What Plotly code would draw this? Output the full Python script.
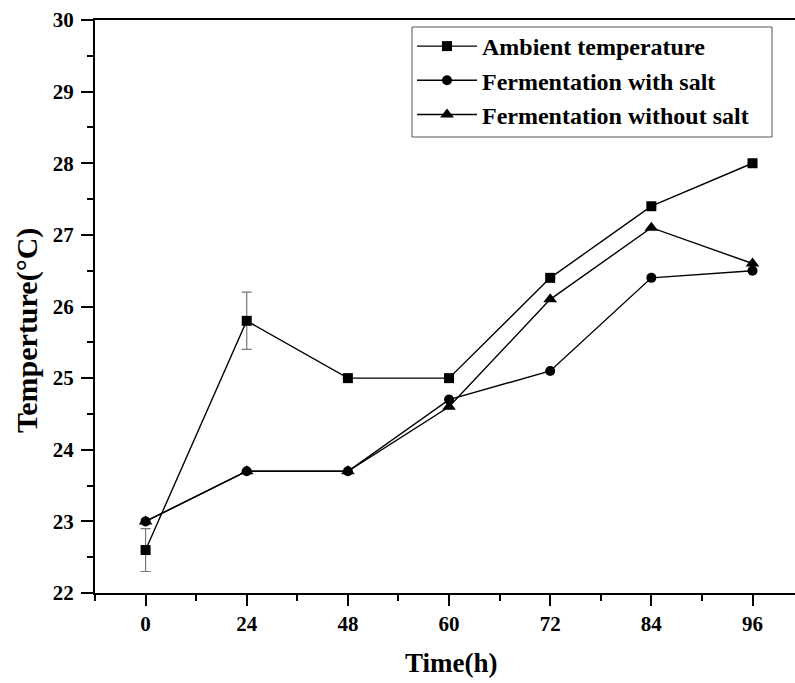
import plotly.graph_objects as go

hours = ["0", "24", "48", "60", "72", "84", "96"]
ambient = [22.6, 25.8, 25.0, 25.0, 26.4, 27.4, 28.0]
ambient_err = [0.3, 0.4, 0.0, 0.0, 0.0, 0.0, 0.0]
with_salt = [23.0, 23.7, 23.7, 24.7, 25.1, 26.4, 26.5]
without_salt = [23.0, 23.7, 23.7, 24.6, 26.1, 27.1, 26.6]

idx = list(range(len(hours)))
FONT = "Liberation Serif, Times New Roman, serif"

# plot-area geometry (pixels)
L, R, T, B = 95, 795, 20, 593
PW, PH = R - L, B - T
def px(xp):
    return (xp - L) / PW
def py(yp):
    return (B - yp) / PH

fig = go.Figure()
fig.add_trace(go.Scatter(
    x=idx, y=ambient, name="Ambient temperature", mode="lines+markers",
    line=dict(color="black", width=1.4),
    marker=dict(symbol="square", size=10, color="black"),
    error_y=dict(type="data", array=ambient_err, visible=True,
                 color="#777777", thickness=1.2, width=5),
))
fig.add_trace(go.Scatter(
    x=idx, y=with_salt, name="Fermentation with salt", mode="lines+markers",
    line=dict(color="black", width=1.4),
    marker=dict(symbol="circle", size=10, color="black"),
))
fig.add_trace(go.Scatter(
    x=idx, y=without_salt, name="Fermentation without salt", mode="lines+markers",
    line=dict(color="black", width=1.4),
    marker=dict(symbol="triangle-up", size=12, color="black"),
))

minor_x = [i - 0.5 for i in range(len(hours) + 1)]

fig.add_shape(type="rect", xref="paper", yref="paper",
              x0=px(412), x1=px(772), y0=py(137), y1=py(27),
              line=dict(color="#555555", width=1), fillcolor="white", layer="above")

fig.add_annotation(text="Temperture(°C)", xref="paper", yref="paper",
                   x=px(27), y=py(331), xanchor="center", yanchor="middle",
                   textangle=-90, showarrow=False,
                   font=dict(family=FONT, size=30, color="black", weight="bold"))
fig.add_annotation(text="Time(h)", xref="paper", yref="paper",
                   x=px(451), y=py(663), xanchor="center", yanchor="middle",
                   showarrow=False,
                   font=dict(family=FONT, size=27, color="black", weight="bold"))

fig.update_layout(
    width=795, height=683,
    margin=dict(l=L, r=795 - R, t=T, b=683 - B),
    paper_bgcolor="white", plot_bgcolor="white",
    font=dict(family=FONT, color="black", weight="bold"),
    showlegend=True,
    legend=dict(
        x=px(412), y=py(24), xanchor="left", yanchor="top",
        borderwidth=0, bgcolor="rgba(0,0,0,0)",
        font=dict(family=FONT, size=24, color="black", weight="bold"),
        itemwidth=60, tracegroupgap=0,
    ),
    xaxis=dict(
        range=[-0.5, 6.42], tickvals=idx, ticktext=hours,
        showgrid=False, zeroline=False,
        showline=True, linecolor="black", linewidth=2, mirror=True,
        ticks="outside", ticklen=11, tickwidth=2, tickcolor="black",
        tickfont=dict(family=FONT, size=21, color="black", weight="bold"),
        ticklabelstandoff=0,
        minor=dict(tickvals=minor_x, ticks="outside", ticklen=6, tickwidth=2,
                   tickcolor="black", showgrid=False),
    ),
    yaxis=dict(
        range=[22, 30], dtick=1, tick0=22,
        showgrid=False, zeroline=False,
        showline=True, linecolor="black", linewidth=2, mirror=False,
        ticks="outside", ticklen=12, tickwidth=2, tickcolor="black",
        tickfont=dict(family=FONT, size=21, color="black", weight="bold"),
        ticklabelstandoff=3,
        minor=dict(dtick=0.5, tick0=22, ticks="outside", ticklen=6, tickwidth=2,
                   tickcolor="black", showgrid=False),
    ),
)

fig.write_html("out.html")
